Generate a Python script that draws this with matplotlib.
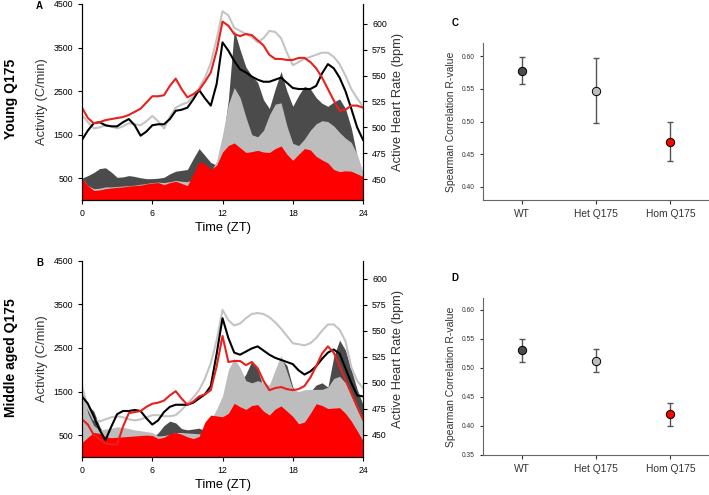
import numpy as np
import matplotlib
matplotlib.use("Agg")
import matplotlib.pyplot as plt

plt.rcParams['font.family'] = ['Liberation Sans', 'DejaVu Sans']

# time of day (ZT), half-hour steps
hours = np.arange(0, 24.5, 0.5)

# ---- panel A (young) : activity (C/min)
act_wt_young = [500, 560, 630, 720, 740, 640, 520, 530, 560, 540, 510, 490, 490, 500, 520, 600, 660, 680,
                700, 950, 1180, 1020, 860, 800, 1300, 2300, 3900, 3450, 3050, 2850, 2700, 2300, 2100, 2550,
                2950, 2500, 2150, 2400, 2610, 2550, 2350, 2220, 2150, 2250, 2320, 2100, 1650, 1000, 600]
act_het_young = [500, 330, 260, 270, 300, 300, 310, 320, 330, 340, 360, 380, 400, 410, 400, 420, 450, 430,
                 420, 480, 520, 560, 650, 900, 1500, 2200, 2580, 2350, 1900, 1500, 1450, 1600, 1950, 2200,
                 2230, 1700, 1300, 1250, 1400, 1600, 1750, 1820, 1800, 1700, 1550, 1420, 1320, 1050, 620]
act_hom_young = [500, 330, 220, 230, 260, 275, 290, 300, 320, 330, 340, 370, 390, 400, 350, 400, 430, 380,
                 330, 600, 870, 830, 700, 800, 1100, 1250, 1310, 1200, 1090, 1110, 1140, 1100, 1090, 1180,
                 1240, 1050, 910, 1050, 1180, 1150, 1000, 920, 850, 700, 650, 670, 660, 600, 540]
# heart rate (bpm)
hr_wt_young = [488, 497, 504, 505, 502, 501, 501, 505, 508, 502, 492, 496, 502, 503, 503, 508, 516, 517,
               519, 527, 536, 528, 521, 542, 582, 574, 564, 556, 553, 549, 546, 544, 544, 546, 548, 543,
               538, 537, 537, 537, 540, 552, 561, 557, 548, 535, 518, 500, 488]
hr_het_young = [512, 505, 499, 500, 502, 501, 499, 501, 504, 503, 502, 506, 511, 506, 499, 510, 519, 522,
                524, 530, 538, 548, 562, 585, 612, 608, 596, 593, 590, 587, 582, 586, 593, 592, 586, 572,
                560, 563, 566, 568, 570, 572, 572, 568, 561, 550, 537, 528, 520]
hr_hom_young = [519, 509, 504, 505, 507, 508, 509, 510, 512, 515, 518, 524, 530, 530, 531, 540, 547, 537,
                529, 532, 536, 544, 553, 574, 602, 598, 590, 588, 590, 589, 584, 579, 570, 566, 566, 565,
                565, 567, 567, 563, 557, 548, 537, 526, 516, 517, 521, 521, 519]

# ---- panel B (middle aged)
act_wt_mid = [1100, 1180, 1050, 700, 480, 450, 450, 450, 450, 450, 450, 450, 450, 550, 720, 820, 780, 650,
              620, 640, 660, 600, 500, 600, 900, 1300, 1600, 1700, 1900, 2200, 2000, 1600, 1600, 1900,
              2250, 2100, 1600, 1400, 1400, 1500, 1650, 1700, 1600, 2300, 2680, 2450, 2000, 1550, 1200]
act_het_mid = [1600, 1000, 720, 620, 640, 660, 690, 680, 650, 620, 600, 580, 560, 480, 490, 520, 560, 560,
               550, 540, 530, 520, 850, 1100, 1400, 2000, 2260, 2050, 1750, 1700, 1750, 1700, 1650, 2000,
               2330, 1950, 1550, 1500, 1540, 1550, 1550, 1550, 1600, 1800, 1850, 1700, 1400, 1100, 800]
act_hom_mid = [330, 450, 560, 540, 460, 440, 450, 460, 470, 480, 490, 500, 490, 420, 450, 530, 560, 520,
               460, 420, 470, 800, 960, 940, 920, 1000, 1230, 1150, 1090, 1180, 1200, 1050, 960, 1100,
               1170, 1050, 930, 760, 800, 1000, 1220, 1180, 1110, 1120, 1130, 1000, 820, 600, 370]
hr_wt_mid = [487, 480, 468, 455, 445, 458, 470, 473, 473, 474, 473, 466, 460, 464, 472, 477, 479, 479,
             479, 481, 485, 489, 497, 528, 562, 543, 529, 527, 530, 533, 535, 531, 527, 524, 522, 520,
             518, 512, 508, 511, 516, 523, 529, 532, 528, 514, 500, 488, 487]
hr_het_mid = [497, 476, 465, 463, 465, 467, 468, 467, 465, 464, 465, 467, 469, 469, 468, 468, 469, 474,
              480, 486, 493, 504, 519, 541, 570, 560, 555, 557, 562, 566, 567, 566, 563, 558, 552, 545,
              538, 537, 536, 538, 543, 550, 556, 556, 551, 540, 515, 502, 495]
hr_hom_mid = [465, 460, 450, 446, 442, 441, 441, 458, 471, 472, 473, 477, 480, 481, 483, 488, 492, 485,
              479, 482, 487, 489, 493, 516, 545, 520, 521, 521, 517, 520, 514, 502, 493, 495, 496, 494,
              493, 494, 497, 505, 516, 528, 535, 529, 516, 503, 490, 477, 465]

# ---- panels C, D: Spearman correlation
groups = ['WT', 'Het Q175', 'Hom Q175']
r_young = [0.578, 0.547, 0.469]
r_young_err = [0.020, 0.050, 0.030]
r_mid = [0.530, 0.512, 0.420]
r_mid_err = [0.020, 0.020, 0.020]

DARK = '#4b4b4b'
LIGHT = '#bdbdbd'
RED = '#ff0000'
LRED = '#e8211c'

fig = plt.figure(figsize=(7.09, 4.95), dpi=100)


def activity_panel(rect, wt, het, hom, hwt, hhet, hhom, hr_lim, letter, row_label, lab_y):
    ax = fig.add_axes(rect)
    ax.fill_between(hours, 0, wt, color=DARK, lw=0)
    ax.fill_between(hours, 0, het, color=LIGHT, lw=0)
    ax.fill_between(hours, 0, hom, color=RED, lw=0)
    ax.set_xlim(0, 24)
    ax.set_ylim(0, 4500)
    ax.set_xticks([0, 6, 12, 18, 24])
    ax.set_yticks([500, 1500, 2500, 3500, 4500])
    ax.spines['top'].set_visible(False)
    ax.tick_params(labelsize=6.3, length=3)
    ax.set_xlabel('Time (ZT)', fontsize=9.3, labelpad=3)
    ax.set_ylabel('Activity (C/min)', fontsize=9.3, color='#333333', labelpad=4)

    ax2 = ax.twinx()
    ax2.plot(hours, hhet, color='#c4c4c4', lw=1.5)
    ax2.plot(hours, hwt, color='black', lw=1.5)
    ax2.plot(hours, hhom, color=LRED, lw=1.5)
    ax2.set_ylim(*hr_lim)
    ax2.set_yticks([450, 475, 500, 525, 550, 575, 600])
    ax2.spines['top'].set_visible(False)
    ax2.tick_params(labelsize=6.3, length=3)
    ax2.set_ylabel('Active Heart Rate (bpm)', fontsize=9.3, color='#333333', labelpad=4)

    fig.text(rect[0] - 0.06, rect[1] + rect[3] - 0.005, letter, fontsize=7, fontweight='bold',
             ha='center', va='center')
    fig.text(0.015, lab_y, row_label, rotation=90, fontsize=10, fontweight='bold',
             ha='center', va='center')


def corr_panel(rect, vals, errs, ylim, yticks, letter):
    ax = fig.add_axes(rect)
    cols = [DARK, LIGHT, RED]
    for i in range(3):
        ax.errorbar(i, vals[i], yerr=errs[i], fmt='none', ecolor='#555555', elinewidth=1,
                    capsize=2.5, capthick=1)
        ax.plot(i, vals[i], 'o', ms=6, mfc=cols[i], mec='black', mew=0.7)
    ax.set_xlim(-0.52, 2.5)
    ax.set_ylim(*ylim)
    ax.set_yticks(yticks)
    ax.set_yticklabels(['%.2f' % v for v in yticks])
    ax.set_xticks(range(3))
    ax.set_xticklabels(groups, fontsize=7.4)
    ax.tick_params(axis='y', labelsize=4.8, length=2.5, colors='#333333')
    ax.tick_params(axis='x', length=3, colors='#333333')
    for s in ['top', 'right']:
        ax.spines[s].set_visible(False)
    for s in ['left', 'bottom']:
        ax.spines[s].set_color('#666666')
    ax.set_ylabel('Spearman Correlation R-value', fontsize=7.5, color='#333333', labelpad=4)
    fig.text(rect[0] - 0.039, rect[1] + rect[3] + 0.04, letter, fontsize=7, fontweight='bold',
             ha='center', va='center')


activity_panel([0.1157, 0.596, 0.3963, 0.396], act_wt_young, act_het_young, act_hom_young,
               hr_wt_young, hr_het_young, hr_hom_young, (430, 619), 'A', 'Young Q175', 0.80)
activity_panel([0.1157, 0.077, 0.3963, 0.396], act_wt_mid, act_het_mid, act_hom_mid,
               hr_wt_mid, hr_het_mid, hr_hom_mid, (429, 617), 'B', 'Middle aged Q175', 0.277)

corr_panel([0.681, 0.596, 0.317, 0.317], r_young, r_young_err, (0.38, 0.62),
           [0.40, 0.45, 0.50, 0.55, 0.60], 'C')
corr_panel([0.681, 0.081, 0.317, 0.317], r_mid, r_mid_err, (0.35, 0.62),
           [0.35, 0.40, 0.45, 0.50, 0.55, 0.60], 'D')

fig.savefig('out.png', dpi=100)
